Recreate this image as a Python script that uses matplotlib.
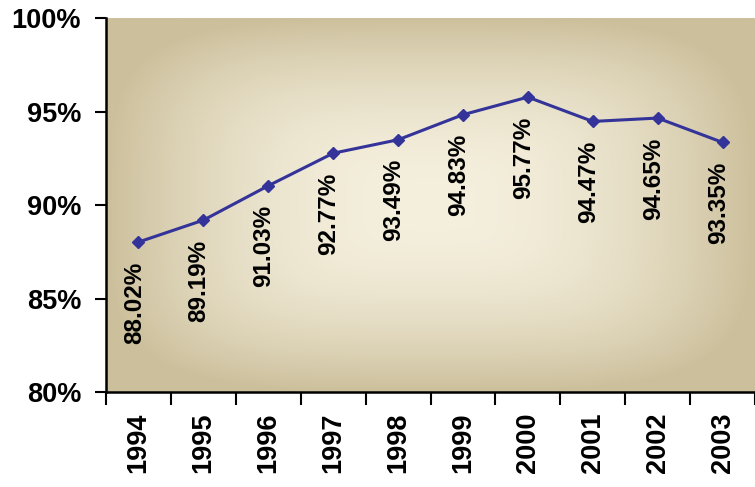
import numpy as np
import matplotlib
matplotlib.use("Agg")
import matplotlib.pyplot as plt
from matplotlib.ticker import FixedLocator, FuncFormatter

years = ["1994", "1995", "1996", "1997", "1998", "1999", "2000", "2001", "2002", "2003"]
rates = [88.02, 89.19, 91.03, 92.77, 93.49, 94.83, 95.77, 94.47, 94.65, 93.35]
y_ticks = [80, 85, 90, 95, 100]

plt.rcParams["font.family"] = ["Liberation Sans", "DejaVu Sans"]
plt.rcParams["font.weight"] = "bold"

fig = plt.figure(figsize=(7.55, 4.87), dpi=100)
ax = fig.add_axes([0.1404, 0.195, 0.8596, 0.768])

x = np.arange(len(years))
ax.set_xlim(-0.5, len(years) - 0.5)
ax.set_ylim(80, 100)

# soft "from centre" fill behind the plot
n = 300
u = np.linspace(-1, 1, n)
U, V = np.meshgrid(u, u)
d = (np.abs(U) ** 4 + np.abs(V) ** 4) ** 0.25
d = np.clip(d, 0, 1) ** 2.0
centre = np.array([0.96, 0.94, 0.87])
edge = np.array([0.80, 0.75, 0.61])
img = centre[None, None, :] * (1 - d[..., None]) + edge[None, None, :] * d[..., None]
ax.imshow(img, extent=[-0.5, len(years) - 0.5, 80, 100], aspect="auto",
          zorder=0, interpolation="bilinear")

ax.plot(x, rates, color="#333399", linewidth=2.2, marker="D", markersize=6.5,
        zorder=3)

for xi, r in zip(x, rates):
    ax.annotate(f"{r:.2f}%", (xi, r), xytext=(-3, -14), textcoords="offset points",
                rotation=90, ha="center", va="top", fontsize=17.5,
                fontweight="bold", color="black", zorder=4)

ax.yaxis.set_major_locator(FixedLocator(y_ticks))
ax.yaxis.set_major_formatter(FuncFormatter(lambda v, p: f"{v:.0f}%"))
ax.tick_params(axis="y", length=8, width=1.5, pad=10, labelsize=19.5)

ax.set_xticks(x)
ax.set_xticklabels(years, rotation=90, fontsize=19.5, fontweight="bold")
ax.set_xticks(np.arange(-0.5, len(years), 1), minor=True)
ax.tick_params(axis="x", which="major", length=0, pad=15)
ax.tick_params(axis="x", which="minor", length=9, width=1.5)

for lab in ax.get_yticklabels():
    lab.set_fontweight("bold")

for side in ("top", "right"):
    ax.spines[side].set_visible(False)
for side in ("left", "bottom"):
    ax.spines[side].set_linewidth(1.8)
    ax.spines[side].set_zorder(5)

fig.savefig("out.png", dpi=100)
